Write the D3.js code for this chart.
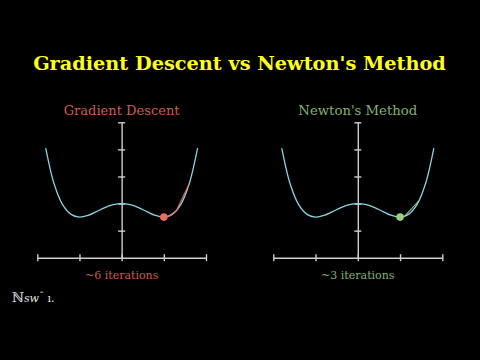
<!DOCTYPE html>
<html><head><meta charset="utf-8">
<script src="https://cdn.jsdelivr.net/npm/d3@7"></script>
<style>html,body{margin:0;padding:0;background:#000;}svg{display:block;}</style>
</head><body>
<script>
// ---- data ----
const xTicks = [-2, -1, 0, 1, 2];
const yTicks = [-1, 0, 1, 2, 3];
const curveX = [-1.8,-1.6,-1.4,-1.2,-1.0,-0.8,-0.6,-0.4,-0.2,0,0.2,0.4,0.6,0.8,1.0,1.2,1.4,1.6,1.8];
const curveY = [2.05,0.72,-0.04,-0.40,-0.50,-0.44,-0.30,-0.15,-0.04,0,-0.04,-0.15,-0.30,-0.44,-0.50,-0.40,-0.04,0.72,2.05];
const gdX = [1.6, 1.3, 1.12, 1.04, 1.0];
const gdY = [0.72, -0.26, -0.47, -0.50, -0.50];
const nwX = [1.45, 1.1, 1.0];
const nwY = [0.11, -0.48, -0.50];
const panels = [
  {title: "Gradient Descent", note: "~6 iterations", color: "#f06a62", pathX: gdX, pathY: gdY, x0: 37.3, x1: 206},
  {title: "Newton's Method", note: "~3 iterations", color: "#9ccf84", pathX: nwX, pathY: nwY, x0: 273.3, x1: 442.3}
];
const mainTitle = "Gradient Descent vs Newton's Method";

const W = 480, H = 360;
const svg = d3.select("body").append("svg").attr("width", W).attr("height", H);
svg.append("rect").attr("width", W).attr("height", H).attr("fill", "#000");

function fitText(sel, width) {
  const len = sel.node().getComputedTextLength();
  const fs = parseFloat(sel.attr("font-size"));
  sel.attr("font-size", fs * width / len);
}

const t = svg.append("text").attr("x", 239.5).attr("y", 69.5).attr("text-anchor", "middle")
  .attr("font-family", "DejaVu Serif").attr("font-weight", "bold").attr("font-size", 19)
  .attr("fill", "#ffff1a").text(mainTitle);
fitText(t, 413);

const y = d3.scaleLinear().domain([-2, 3]).range([257.7, 122.3]);

panels.forEach(p => {
  const x = d3.scaleLinear().domain([-2, 2]).range([p.x0, p.x1]);
  const g = svg.append("g");
  const cx = (p.x0 + p.x1) / 2;

  const xa = g.append("g").attr("transform", `translate(0,${y(-2)})`)
    .call(d3.axisBottom(x).tickValues(xTicks).tickSize(0).tickFormat(""));
  xa.selectAll(".tick line").attr("y1", -3.5).attr("y2", 3.5);
  const ya = g.append("g").attr("transform", `translate(${x(0)},0)`)
    .call(d3.axisLeft(y).tickValues(yTicks).tickSize(0).tickFormat(""));
  ya.selectAll(".tick line").attr("x1", -3.5).attr("x2", 3.5);
  g.selectAll(".domain, .tick line").attr("stroke", "#cfcfcf").attr("stroke-width", 1.4);

  const line = d3.line().x(d => x(d[0])).y(d => y(d[1]));
  g.append("path").datum(curveX.map((v, i) => [v, curveY[i]]))
    .attr("d", line.curve(d3.curveCatmullRom)).attr("fill", "none")
    .attr("stroke", "#8ad3e3").attr("stroke-width", 1.3);

  g.append("path").datum(p.pathX.map((v, i) => [v, p.pathY[i]]))
    .attr("d", d3.line().x(d => x(d[0])).y(d => y(d[1]))).attr("fill", "none")
    .attr("stroke", p.color).attr("stroke-width", 1.2).attr("opacity", 0.9);

  const n = p.pathX.length - 1;
  g.append("circle").attr("cx", x(p.pathX[n])).attr("cy", y(p.pathY[n])).attr("r", 3.8)
    .attr("fill", p.color);

  const tt = g.append("text").attr("x", cx).attr("y", 114.5).attr("text-anchor", "middle")
    .attr("font-family", "DejaVu Serif").attr("font-size", 12.5).attr("fill", p.color)
    .attr("opacity", 0.85).text(p.title);
  fitText(tt, p.title === "Gradient Descent" ? 116 : 119);
  const nt = g.append("text").attr("x", cx).attr("y", 278.5).attr("text-anchor", "middle")
    .attr("font-family", "DejaVu Serif").attr("font-size", 11).attr("fill", p.color)
    .attr("opacity", 0.85).text(p.note);
  fitText(nt, 73.5);
});

const bl = svg.append("text").attr("x", 12).attr("y", 302).attr("font-family", "DejaVu Serif")
  .attr("font-size", 13).attr("fill", "#e8e8e8");
bl.append("tspan").text("ℕ");
bl.append("tspan").attr("font-style", "italic").attr("font-size", 11).text("sw");
bl.append("tspan").attr("font-size", 10).attr("dy", -3).text("ˆ");
bl.append("tspan").attr("font-size", 11).attr("dy", 3).text(" ı.");
</script>
</body></html>
